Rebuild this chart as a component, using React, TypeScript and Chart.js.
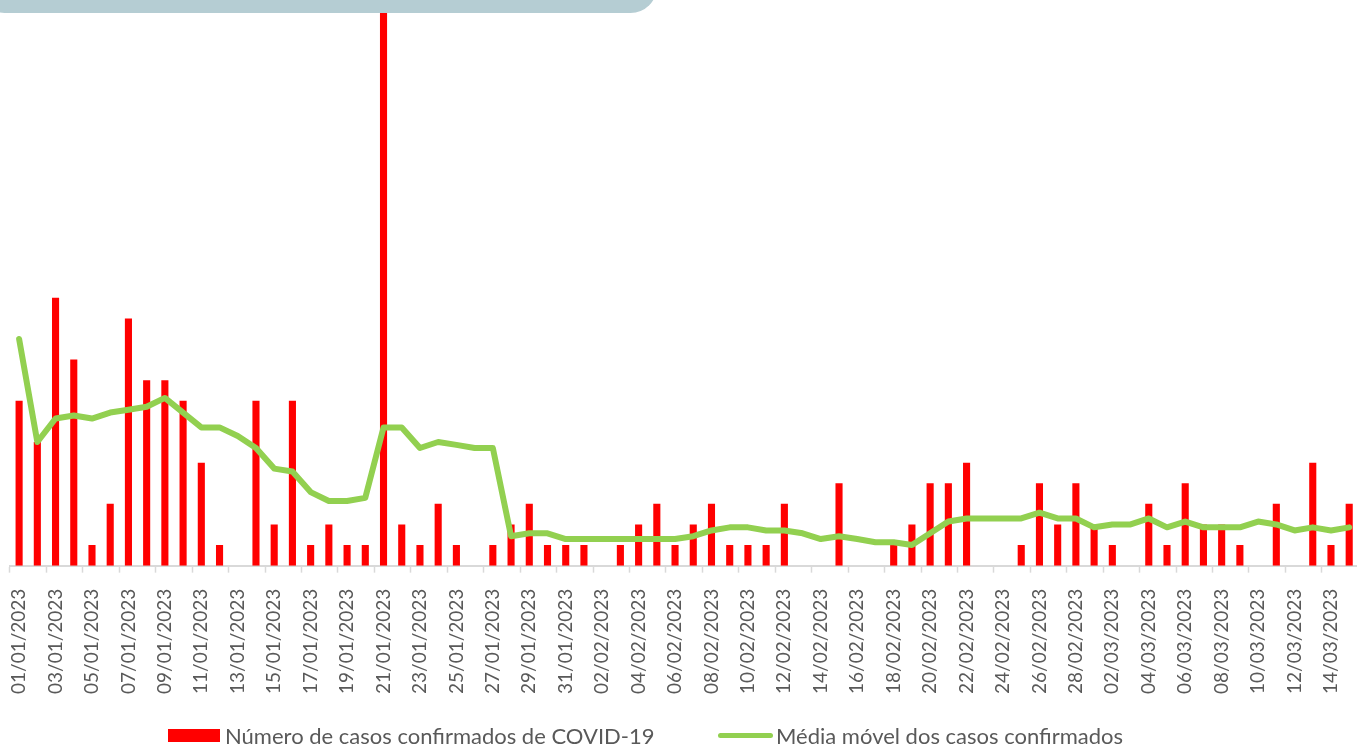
import React, { useEffect, useRef } from "react";
import { Chart, registerables } from "chart.js";

Chart.register(...registerables);

const categories = [
  "01/01/2023", "02/01/2023", "03/01/2023", "04/01/2023", "05/01/2023", "06/01/2023", "07/01/2023", "08/01/2023", "09/01/2023", "10/01/2023",
  "11/01/2023", "12/01/2023", "13/01/2023", "14/01/2023", "15/01/2023", "16/01/2023", "17/01/2023", "18/01/2023", "19/01/2023", "20/01/2023",
  "21/01/2023", "22/01/2023", "23/01/2023", "24/01/2023", "25/01/2023", "26/01/2023", "27/01/2023", "28/01/2023", "29/01/2023", "30/01/2023",
  "31/01/2023", "01/02/2023", "02/02/2023", "03/02/2023", "04/02/2023", "05/02/2023", "06/02/2023", "07/02/2023", "08/02/2023", "09/02/2023",
  "10/02/2023", "11/02/2023", "12/02/2023", "13/02/2023", "14/02/2023", "15/02/2023", "16/02/2023", "17/02/2023", "18/02/2023", "19/02/2023",
  "20/02/2023", "21/02/2023", "22/02/2023", "23/02/2023", "24/02/2023", "25/02/2023", "26/02/2023", "27/02/2023", "28/02/2023", "01/03/2023",
  "02/03/2023", "03/03/2023", "04/03/2023", "05/03/2023", "06/03/2023", "07/03/2023", "08/03/2023", "09/03/2023", "10/03/2023", "11/03/2023",
  "12/03/2023", "13/03/2023", "14/03/2023", "15/03/2023",
];

const confirmedCases = [
  8, 6, 13, 10, 1, 3, 12, 9, 9, 8,
  5, 1, 0, 8, 2, 8, 1, 2, 1, 1,
  32, 2, 1, 3, 1, 0, 1, 2, 3, 1,
  1, 1, 0, 1, 2, 3, 1, 2, 3, 1,
  1, 1, 3, 0, 0, 4, 0, 0, 1, 2,
  4, 4, 5, 0, 0, 1, 4, 2, 4, 2,
  1, 0, 3, 1, 4, 2, 2, 1, 0, 3,
  0, 5, 1, 3,
];

const movingAverage = [
  11.0, 6.0, 7.14, 7.29, 7.14, 7.43, 7.57, 7.71, 8.14, 7.43,
  6.71, 6.71, 6.29, 5.71, 4.71, 4.57, 3.57, 3.14, 3.14, 3.29,
  6.71, 6.71, 5.71, 6.0, 5.86, 5.71, 5.71, 1.43, 1.57, 1.57,
  1.29, 1.29, 1.29, 1.29, 1.29, 1.29, 1.29, 1.43, 1.71, 1.86,
  1.86, 1.71, 1.71, 1.57, 1.29, 1.43, 1.29, 1.14, 1.14, 1.0,
  1.57, 2.14, 2.29, 2.29, 2.29, 2.29, 2.57, 2.29, 2.29, 1.86,
  2.0, 2.0, 2.29, 1.86, 2.14, 1.86, 1.86, 1.86, 2.14, 2.0,
  1.71, 1.86, 1.71, 1.86,
];

const barLabel = "Número de casos confirmados de COVID-19";
const lineLabel = "Média móvel dos casos confirmados";

const RED = "#ff0000";
const GREEN = "#92d050";
const TEXT = "#595959";
const AXIS = "#d9d9d9";
const FONT = "Lato, 'Open Sans', sans-serif";

export default function App() {
  const canvasRef = useRef<HTMLCanvasElement | null>(null);

  useEffect(() => {
    let chart: Chart | null = null;
    let cancelled = false;
    const build = () => {
      if (cancelled || !canvasRef.current) return;
      chart = new Chart(canvasRef.current, {
        data: {
          labels: categories,
          datasets: [
            {
              type: "bar",
              label: barLabel,
              data: confirmedCases,
              backgroundColor: RED,
              borderWidth: 0,
              barPercentage: 0.39,
              categoryPercentage: 1,
              order: 2,
            },
            {
              type: "line",
              label: lineLabel,
              data: movingAverage,
              borderColor: GREEN,
              backgroundColor: GREEN,
              borderWidth: 6,
              pointRadius: 0,
              tension: 0,
              borderJoinStyle: "round",
              borderCapStyle: "round",
              order: 1,
            },
          ],
        } as any,
        options: {
          animation: false,
          responsive: true,
          maintainAspectRatio: false,
          layout: { autoPadding: false, padding: { left: 10, right: 0, top: 0, bottom: 34 } },
          plugins: {
            legend: { display: false },
            tooltip: { enabled: false },
          },
          scales: {
            x: {
              offset: true,
              grid: {
                offset: true,
                drawOnChartArea: false,
                drawTicks: true,
                tickLength: 7,
                tickWidth: 1.5,
                tickColor: (ctx: any) => (ctx.index % 2 === 0 ? AXIS : "rgba(0,0,0,0)"),
              },
              border: { color: AXIS, width: 2 },
              ticks: {
                autoSkip: false,
                maxRotation: 90,
                minRotation: 90,
                padding: 16,
                color: TEXT,
                font: { family: FONT, size: 19 },
                callback: (_v: any, i: number) => (i % 2 === 0 ? categories[i] : ""),
              },
            },
            y: { display: false, min: 0, max: 27.45 },
          },
        } as any,
      });
    };
    const fontsReady = (document as any).fonts ? (document as any).fonts.load("21px Lato").catch(() => null) : Promise.resolve();
    fontsReady.then(build, build);
    return () => {
      cancelled = true;
      if (chart) chart.destroy();
    };
  }, []);

  return (
    <div style={{ position: "absolute", left: 0, top: 0, width: 1357, height: 744, overflow: "hidden", background: "#fff" }}>
      <div style={{ position: "absolute", left: 0, top: 0, width: 1388, height: 744 }}>
        <canvas ref={canvasRef} />
      </div>
      <div
        style={{
          position: "absolute",
          left: -22,
          top: -40,
          width: 679,
          height: 53,
          background: "#b5cdd3",
          borderRadius: 30,
        }}
      />
      <div style={{ position: "absolute", left: 168, top: 722, height: 26, display: "flex", alignItems: "center", fontFamily: FONT, fontSize: 22, color: TEXT, whiteSpace: "nowrap" }}>
        <span style={{ display: "inline-block", width: 52, height: 13, background: RED, marginRight: 5 }} />
        <span>{barLabel}</span>
      </div>
      <div style={{ position: "absolute", left: 718, top: 722, height: 26, display: "flex", alignItems: "center", fontFamily: FONT, fontSize: 22, color: TEXT, whiteSpace: "nowrap" }}>
        <span style={{ display: "inline-block", width: 55, height: 5, borderRadius: 3, background: GREEN, marginRight: 3 }} />
        <span>{lineLabel}</span>
      </div>
    </div>
  );
}
